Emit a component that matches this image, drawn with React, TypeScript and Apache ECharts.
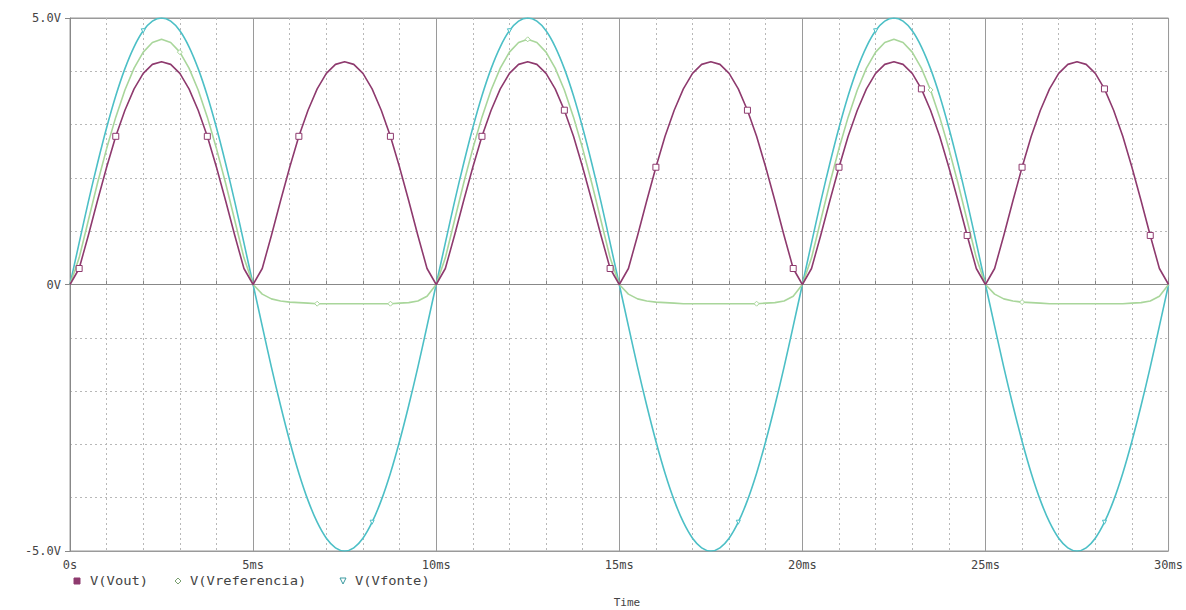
import React, { useEffect, useRef } from "react";
import * as echarts from "echarts";

// time grid in ms (0.25 ms steps, 0..30 ms)
const timeMs: number[] = Array.from({ length: 121 }, (_, i) => i * 0.25);

const vFonte: number[] = [
  0, 0.78, 1.55, 2.27, 2.94, 3.54, 4.05, 4.46, 4.76, 4.94, 5.0, 4.94, 4.76, 4.46, 4.05, 3.54, 2.94, 2.27, 1.55, 0.78, 0,
  -0.78, -1.55, -2.27, -2.94, -3.54, -4.05, -4.46, -4.76, -4.94, -5.0, -4.94, -4.76, -4.46, -4.05, -3.54, -2.94, -2.27, -1.55, -0.78, 0,
  0.78, 1.55, 2.27, 2.94, 3.54, 4.05, 4.46, 4.76, 4.94, 5.0, 4.94, 4.76, 4.46, 4.05, 3.54, 2.94, 2.27, 1.55, 0.78, 0,
  -0.78, -1.55, -2.27, -2.94, -3.54, -4.05, -4.46, -4.76, -4.94, -5.0, -4.94, -4.76, -4.46, -4.05, -3.54, -2.94, -2.27, -1.55, -0.78, 0,
  0.78, 1.55, 2.27, 2.94, 3.54, 4.05, 4.46, 4.76, 4.94, 5.0, 4.94, 4.76, 4.46, 4.05, 3.54, 2.94, 2.27, 1.55, 0.78, 0,
  -0.78, -1.55, -2.27, -2.94, -3.54, -4.05, -4.46, -4.76, -4.94, -5.0, -4.94, -4.76, -4.46, -4.05, -3.54, -2.94, -2.27, -1.55, -0.78, 0,
];

const vOut: number[] = [
  0, 0.3, 0.92, 1.57, 2.2, 2.78, 3.27, 3.67, 3.96, 4.13, 4.18, 4.13, 3.96, 3.67, 3.27, 2.78, 2.2, 1.57, 0.92, 0.3, 0,
  0.3, 0.92, 1.57, 2.2, 2.78, 3.27, 3.67, 3.96, 4.13, 4.18, 4.13, 3.96, 3.67, 3.27, 2.78, 2.2, 1.57, 0.92, 0.3, 0,
  0.3, 0.92, 1.57, 2.2, 2.78, 3.27, 3.67, 3.96, 4.13, 4.18, 4.13, 3.96, 3.67, 3.27, 2.78, 2.2, 1.57, 0.92, 0.3, 0,
  0.3, 0.92, 1.57, 2.2, 2.78, 3.27, 3.67, 3.96, 4.13, 4.18, 4.13, 3.96, 3.67, 3.27, 2.78, 2.2, 1.57, 0.92, 0.3, 0,
  0.3, 0.92, 1.57, 2.2, 2.78, 3.27, 3.67, 3.96, 4.13, 4.18, 4.13, 3.96, 3.67, 3.27, 2.78, 2.2, 1.57, 0.92, 0.3, 0,
  0.3, 0.92, 1.57, 2.2, 2.78, 3.27, 3.67, 3.96, 4.13, 4.18, 4.13, 3.96, 3.67, 3.27, 2.78, 2.2, 1.57, 0.92, 0.3, 0,
];

const vReferencia: number[] = [
  0, 0.5, 1.2, 1.9, 2.55, 3.14, 3.65, 4.06, 4.36, 4.54, 4.6, 4.54, 4.36, 4.06, 3.65, 3.14, 2.55, 1.9, 1.2, 0.5, 0,
  -0.18, -0.27, -0.31, -0.33, -0.34, -0.35, -0.36, -0.36, -0.36, -0.36, -0.36, -0.36, -0.36, -0.36, -0.36, -0.35, -0.34, -0.31, -0.22, 0,
  0.5, 1.2, 1.9, 2.55, 3.14, 3.65, 4.06, 4.36, 4.54, 4.6, 4.54, 4.36, 4.06, 3.65, 3.14, 2.55, 1.9, 1.2, 0.5, 0,
  -0.18, -0.27, -0.31, -0.33, -0.34, -0.35, -0.36, -0.36, -0.36, -0.36, -0.36, -0.36, -0.36, -0.36, -0.36, -0.35, -0.34, -0.31, -0.22, 0,
  0.5, 1.2, 1.9, 2.55, 3.14, 3.65, 4.06, 4.36, 4.54, 4.6, 4.54, 4.36, 4.06, 3.65, 3.14, 2.55, 1.9, 1.2, 0.5, 0,
  -0.18, -0.27, -0.31, -0.33, -0.34, -0.35, -0.36, -0.36, -0.36, -0.36, -0.36, -0.36, -0.36, -0.36, -0.36, -0.35, -0.34, -0.31, -0.22, 0,
];

// marker sample indices (trace symbols as drawn by the simulator)
const outMarkers: number[] = [1, 5, 15, 25, 35, 45, 54, 59, 64, 74, 79, 84, 93, 98, 104, 113, 118];
const refMarkers: number[] = [12, 27, 35, 50, 75, 94, 104];
const fonteMarkers: number[] = [8, 33, 48, 73, 88, 113];

const xTickLabels: string[] = ["0s", "5ms", "10ms", "15ms", "20ms", "25ms", "30ms"];
const legendNames: string[] = ["V(Vout)", "V(Vreferencia)", "V(Vfonte)"];

const COL_OUT = "#8e3a6e";
const COL_REF = "#a9d69b";
const COL_FONTE = "#4cbfc6";
const FONT = "DejaVu Sans Mono";

function pairs(vals: number[]): number[][] {
  return vals.map((v, i) => [timeMs[i], v]);
}

export default function App() {
  const ref = useRef<HTMLDivElement>(null);
  useEffect(() => {
    if (!ref.current) return;
    const chart = echarts.init(ref.current, null, { renderer: "svg" });
    const outSet = new Set(outMarkers);
    const refSet = new Set(refMarkers);
    const fSet = new Set(fonteMarkers);
    const legendY = 581;
    chart.setOption({
      animation: false,
      backgroundColor: "#ffffff",
      grid: { left: 70, right: 4, top: 18, bottom: 59, show: true, borderColor: "#999", borderWidth: 1, containLabel: false },
      xAxis: [
        {
          type: "value", min: 0, max: 30, interval: 1,
          axisLine: { show: true, lineStyle: { color: "#888", width: 1 } },
          axisTick: { show: true, inside: true, length: 4, lineStyle: { color: "#888" } },
          axisLabel: {
            margin: 8, fontFamily: FONT, fontSize: 12, color: "#444",
            formatter: (v: number) => (Math.round(v) % 5 === 0 ? xTickLabels[Math.round(v) / 5] : ""),
          },
          splitLine: { show: true, lineStyle: { color: "#b8b8b8", type: [2, 3], width: 1 } },
        },
        {
          type: "value", min: 0, max: 30, interval: 5, position: "bottom",
          axisLine: { show: false }, axisTick: { show: true, inside: true, length: 7, lineStyle: { color: "#888" } },
          axisLabel: { show: false },
          splitLine: { show: true, lineStyle: { color: "#9a9a9a", type: "solid", width: 1 } },
        },
      ],
      yAxis: [
        {
          type: "value", min: -5, max: 5, interval: 1,
          axisLine: { show: true, lineStyle: { color: "#888", width: 1 } },
          axisTick: { show: false },
          axisLabel: {
            margin: 9, fontFamily: FONT, fontSize: 12, color: "#444",
            formatter: (v: number) => (v === 5 ? "5.0V" : v === 0 ? "0V" : v === -5 ? "-5.0V" : ""),
          },
          splitLine: { show: true, lineStyle: { color: "#b8b8b8", type: [2, 3], width: 1 } },
        },
        {
          type: "value", min: -5, max: 5, interval: 5, position: "left",
          axisLine: { show: false },
          axisTick: { show: true, length: 5, lineStyle: { color: "#888" } },
          axisLabel: { show: false },
          splitLine: { show: true, lineStyle: { color: "#9a9a9a", type: "solid", width: 1 } },
        },
      ],
      series: [
        {
          name: legendNames[2], type: "line", data: pairs(vFonte), xAxisIndex: 0, yAxisIndex: 0, smooth: 0.3,
          showAllSymbol: true, symbol: "triangle", symbolRotate: 180,
          symbolSize: (_v: any, p: any) => (fSet.has(p.dataIndex) ? 4 : 0),
          itemStyle: { color: "#fff", borderColor: COL_FONTE, borderWidth: 1 },
          lineStyle: { color: COL_FONTE, width: 1.6 }, z: 3,
        },
        {
          name: legendNames[1], type: "line", data: pairs(vReferencia), xAxisIndex: 0, yAxisIndex: 0, smooth: false,
          showAllSymbol: true, symbol: "diamond",
          symbolSize: (_v: any, p: any) => (refSet.has(p.dataIndex) ? 5 : 0),
          itemStyle: { color: "#fff", borderColor: COL_REF, borderWidth: 1 },
          lineStyle: { color: COL_REF, width: 1.6, join: "round" }, z: 4,
        },
        {
          name: legendNames[0], type: "line", data: pairs(vOut), xAxisIndex: 0, yAxisIndex: 0, smooth: false,
          showAllSymbol: true, symbol: "rect",
          symbolSize: (_v: any, p: any) => (outSet.has(p.dataIndex) ? 6 : 0),
          itemStyle: { color: "#fff", borderColor: COL_OUT, borderWidth: 1 },
          lineStyle: { color: COL_OUT, width: 1.6, join: "round" }, z: 5,
        },
      ],
      graphic: [
        { type: "rect", shape: { x: 74, y: legendY - 3, width: 6, height: 6 }, style: { fill: COL_OUT, stroke: COL_OUT } },
        { type: "text", x: 90, y: legendY, style: { text: legendNames[0], font: `12px '${FONT}'`, fill: "#444", textVerticalAlign: "middle" }, scaleX: 1.15 },
        { type: "polygon", shape: { points: [[178, legendY - 3], [181, legendY], [178, legendY + 3], [175, legendY]] }, style: { fill: "none", stroke: "#7aa070", lineWidth: 1 } },
        { type: "text", x: 190, y: legendY, style: { text: legendNames[1], font: `12px '${FONT}'`, fill: "#444", textVerticalAlign: "middle" }, scaleX: 1.15 },
        { type: "polygon", shape: { points: [[340, legendY - 3], [346, legendY - 3], [343, legendY + 3]] }, style: { fill: "none", stroke: "#3a9aa0", lineWidth: 1 } },
        { type: "text", x: 355, y: legendY, style: { text: legendNames[2], font: `12px '${FONT}'`, fill: "#444", textVerticalAlign: "middle" }, scaleX: 1.15 },
        { type: "text", x: 627, y: 602, style: { text: "Time", font: `11px '${FONT}'`, fill: "#444", textAlign: "center", textVerticalAlign: "middle" } },
      ],
    });
    return () => chart.dispose();
  }, []);
  return <div ref={ref} style={{ width: 1186, height: 610, position: "absolute", left: 0, top: 0 }} />;
}
